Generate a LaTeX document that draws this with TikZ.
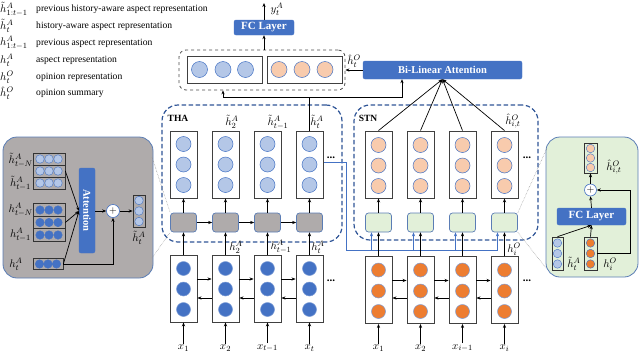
\documentclass[tikz,border=0pt]{standalone}
\usepackage{fontspec}
\setmainfont{Liberation Serif}
\usetikzlibrary{arrows.meta,calc}
\definecolor{dblue}{HTML}{4472C4}
\definecolor{lblue}{HTML}{B4C7E7}
\definecolor{dorange}{HTML}{ED7D31}
\definecolor{lorange}{HTML}{F8CBAD}
\definecolor{lgreen}{HTML}{E2F0D9}
\definecolor{grayb}{HTML}{AFABAB}
\definecolor{navy}{HTML}{2F5597}
\definecolor{frameb}{HTML}{5B7DB5}
\begin{document}
\begin{tikzpicture}[x=1pt,y=-1pt,
  >={Stealth[length=4pt,width=3.2pt]},
  every node/.style={inner sep=1pt},
  lgtext/.style={anchor=west,font=\fontsize{9.6}{10}\selectfont},
  mlab/.style={font=\fontsize{11}{12}\selectfont,inner sep=0pt},
  dotsty/.style={font=\bfseries\fontsize{11}{11}\selectfont,inner sep=0pt},
  colbox/.style={draw=black!75,line width=0.9pt,fill=white,minimum width=27pt,minimum height=67pt,inner sep=0pt},
  cir/.style={circle,draw=dblue,line width=0.5pt,minimum size=15pt,inner sep=0pt},
  scir/.style={circle,draw=dblue,line width=0.4pt,minimum size=8.5pt,inner sep=0pt},
  cell/.style={draw=black!80,line width=0.7pt,inner sep=0pt},
  graybox/.style={draw=frameb,line width=0.7pt,fill=grayb,rounded corners=3pt,minimum width=26pt,minimum height=19pt,inner sep=0pt},
  greenbox/.style={draw=frameb,line width=0.7pt,fill=lgreen,rounded corners=3pt,minimum width=26pt,minimum height=19pt,inner sep=0pt},
  bluebox/.style={draw=dblue,fill=dblue,rounded corners=2pt,text=white,font=\bfseries\fontsize{10.5}{12}\selectfont,inner sep=0pt},
  regionbox/.style={draw=navy,line width=1.2pt,dash pattern=on 4.5pt off 2.5pt,rounded corners=16pt,inner sep=0pt},
  detailbox/.style={draw=frameb,line width=0.8pt,rounded corners=14pt,inner sep=0pt},
  arr/.style={->,line width=0.7pt,black},
  bline/.style={draw=dblue,line width=0.7pt},
  conn/.style={draw=black!45,line width=0.5pt,densely dotted},
  plusc/.style={circle,draw=dblue,line width=0.6pt,fill=white,inner sep=0pt},
  reglab/.style={font=\bfseries\fontsize{9.5}{10}\selectfont}
]
\useasboundingbox (0,0) rectangle (640,354);

% ---------- legend ----------
\node[anchor=west,mlab] (ls1) at (0,9) {$\tilde h^A_{1:t-1}$};
\node[lgtext] (lt1) at (35,9) {previous history-aware aspect representation};
\node[anchor=west,mlab] (ls2) at (0,26) {$\tilde h^A_{t}$};
\node[lgtext] (lt2) at (35,26) {history-aware aspect representation};
\node[anchor=west,mlab] (ls3) at (0,43) {$h^A_{1:t-1}$};
\node[lgtext] (lt3) at (35,43) {previous aspect representation};
\node[anchor=west,mlab] (ls4) at (0,60) {$h^A_{t}$};
\node[lgtext] (lt4) at (35,60) {aspect representation};
\node[anchor=west,mlab] (ls5) at (0,77) {$h^O_{t}$};
\node[lgtext] (lt5) at (35,77) {opinion representation};
\node[anchor=west,mlab] (ls6) at (0,93) {$\hat h^O_{t}$};
\node[lgtext] (lt6) at (35,93) {opinion summary};

% ---------- region boxes ----------
\node[regionbox,minimum width=180pt,minimum height=137pt] (tha) at (252,173.5) {};
\node[regionbox,minimum width=184pt,minimum height=135pt] (stn) at (446,172.5) {};
\node[reglab] (thal) at (178,118) {THA};
\node[reglab] (stnl) at (368,118) {STN};

% ---------- blue line from THA to STN ----------
\coordinate (b0) at (323,162);
\coordinate (b1) at (346,162);
\coordinate (b2) at (346,250);
\coordinate (b3) at (497.5,250);
\draw[bline] (b0) -- (b1) -- (b2) -- (b3);

% ---------- THA / aspect columns ----------
\foreach \i/\x/\xl in {1/183.5/x_1,2/225.5/x_2,3/267.5/x_{t-1},4/309.5/x_t}{
  \node[colbox] (tc\i) at (\x,164.5) {};
  \node[cir,fill=lblue] (tc\i-a) at (\x,144) {};
  \node[cir,fill=lblue] (tc\i-b) at (\x,164.5) {};
  \node[cir,fill=lblue] (tc\i-c) at (\x,185) {};
  \node[graybox] (g\i) at (\x,222.5) {};
  \node[colbox] (ac\i) at (\x,288.5) {};
  \node[cir,minimum size=14pt,fill=dblue,draw=dblue!70!white] (ac\i-a) at (\x,268.5) {};
  \node[cir,minimum size=14pt,fill=dblue,draw=dblue!70!white] (ac\i-b) at (\x,289) {};
  \node[cir,minimum size=14pt,fill=dblue,draw=dblue!70!white] (ac\i-c) at (\x,309.5) {};
  \node[mlab] (xa\i) at (\x,348) {$\xl$};
  \draw[arr] (g\i) -- (tc\i);
  \draw[arr] (ac\i) -- (g\i);
  \draw[arr] ([yshift=1pt]xa\i.north) -- (ac\i.south);
}
\foreach \i/\j in {1/2,2/3,3/4}{
  \draw[arr] (g\i) -- (g\j);
  \draw[arr] ([yshift=9.5pt]ac\i.east) -- ([yshift=9.5pt]ac\j.west);
  \draw[arr] ([yshift=-9.5pt]ac\j.west) -- ([yshift=-9.5pt]ac\i.east);
}
\node[mlab] (th2) at (232,122) {$\tilde h^A_2$};
\node[mlab] (th3) at (278,122) {$\tilde h^A_{t-1}$};
\node[mlab] (th4) at (317,122) {$\tilde h^A_t$};
\node[mlab] (ha2) at (236,247) {$h^A_2$};
\node[mlab] (ha3) at (281,247) {$h^A_{t-1}$};
\node[mlab] (ha4) at (318,247) {$h^A_t$};
\node[dotsty] (dt1) at (331,158) {...};
\node[dotsty] (dt2) at (331,281) {...};

% ---------- STN / opinion columns ----------
\node[bluebox,minimum width=159pt,minimum height=18pt] (bl) at (442.5,70) {Bi-Linear Attention};
\coordinate (blp) at (bl.south);
\foreach \i/\x/\xl in {1/378.5/x_1,2/420.5/x_2,3/462.5/x_{i-1},4/504.5/x_i}{
  \node[colbox] (sc\i) at (\x,164.5) {};
  \node[cir,fill=lorange] (sc\i-a) at (\x,145) {};
  \node[cir,fill=lorange] (sc\i-b) at (\x,165.5) {};
  \node[cir,fill=lorange] (sc\i-c) at (\x,186) {};
  \node[greenbox] (gr\i) at (\x,222.5) {};
  \node[colbox] (oc\i) at (\x,290) {};
  \node[cir,minimum size=14pt,fill=dorange,draw=dblue!70!white] (oc\i-a) at (\x,270) {};
  \node[cir,minimum size=14pt,fill=dorange,draw=dblue!70!white] (oc\i-b) at (\x,291) {};
  \node[cir,minimum size=14pt,fill=dorange,draw=dblue!70!white] (oc\i-c) at (\x,311.5) {};
  \node[mlab] (xo\i) at (\x,348) {$\xl$};
  \draw[arr] (gr\i) -- (sc\i);
  \draw[arr] (oc\i) -- (gr\i);
  \draw[arr] ([yshift=1pt]xo\i.north) -- (oc\i.south);
  \draw[arr] (sc\i.north) -- (blp);
  \draw[->,bline] ($(gr\i.south)+(-7,18)$) -- ($(gr\i.south)+(-7,0)$);
}
\foreach \i/\j in {1/2,2/3,3/4}{
  \draw[arr] ([yshift=9.5pt]oc\i.east) -- ([yshift=9.5pt]oc\j.west);
  \draw[arr] ([yshift=-8pt]oc\j.west) -- ([yshift=-8pt]oc\i.east);
}
\node[mlab] (hs4) at (513,121) {$\hat h^O_{i,t}$};
\node[mlab] (ho4) at (514,249) {$h^O_i$};
\node[dotsty] (dt3) at (527,158) {...};
\node[dotsty] (dt4) at (527,281) {...};

% ---------- top: concat + FC ----------
\node[draw=black!70,line width=0.8pt,dashed,rounded corners=7pt,minimum width=166pt,minimum height=40pt,inner sep=0pt] (cat) at (262,70) {};
\node[draw=black!75,line width=0.8pt,minimum width=75pt,minimum height=27pt,inner sep=0pt] (catl) at (224.5,69.5) {};
\node[draw=black!75,line width=0.8pt,minimum width=75pt,minimum height=27pt,inner sep=0pt] (catr) at (304.5,69.5) {};
\foreach \k/\x in {1/199.5,2/223,3/245.5}{\node[cir,minimum size=16pt,fill=lblue] (cl\k) at (\x,69.5) {};}
\foreach \k/\x in {1/279,2/302,3/325}{\node[cir,minimum size=16pt,fill=lorange] (cr\k) at (\x,69.5) {};}
\node[bluebox,minimum width=60pt,minimum height=15pt,font=\bfseries\fontsize{11}{12}\selectfont] (fc) at (264,27.5) {FC Layer};
\coordinate (yout) at (264,3);
\draw[arr] (fc.north) -- (yout);
\node[mlab] (ylab) at (277,9) {$y^A_t$};
\draw[arr] (fc.south |- cat.north) -- (fc.south);
\draw[arr] (bl.west) -- (cat.east);
\node[mlab] (hho) at (354,61) {$\hat h^O_t$};
\coordinate (j1) at (223,97);
\coordinate (j2) at (402,97);
\draw[arr] (tc4.north) |- (j1) -- (j1 |- cat.south);
\draw[arr] (tc4.north |- j1) -- (j2) -- (j2 |- bl.south);

% ---------- left detail box ----------
\node[detailbox,fill=grayb,minimum width=150pt,minimum height=141pt] (lbox) at (78,207.5) {};
\foreach \r/\y in {1/159,2/171,3/183}{
  \node[cell,minimum width=32pt,minimum height=12pt] (ts\r) at (49,\y) {};
  \foreach \k/\x in {1/40,2/49,3/58}{\node[scir,fill=lblue] (ts\r-\k) at (\x,\y) {};}
}
\foreach \r/\y in {1/210,2/222.5,3/235}{
  \node[cell,minimum width=32pt,minimum height=12.5pt] (ds\r) at (49,\y) {};
  \foreach \k/\x in {1/40,2/49,3/58}{\node[scir,fill=dblue] (ds\r-\k) at (\x,\y) {};}
}
\node[cell,minimum width=30pt,minimum height=11pt] (br) at (48,264) {};
\foreach \k/\x in {1/39.5,2/48,3/56.5}{\node[scir,fill=dblue] (br-\k) at (\x,264) {};}
\node[mlab,anchor=east] (lh1) at (33,160) {$\tilde h^A_{t-N}$};
\node[mlab,anchor=east] (lh2) at (31,183) {$\tilde h^A_{t-1}$};
\node[mlab,anchor=east] (lh3) at (33,210) {$h^A_{t-N}$};
\node[mlab,anchor=east] (lh4) at (31,235) {$h^A_{t-1}$};
\node[mlab] (lh5) at (16,264) {$h^A_t$};
\node[bluebox,rotate=-90,minimum width=85pt,minimum height=16pt] (att) at (87,210.5) {Attention};
\coordinate (ap) at (79,211);
\coordinate (ao) at (95,211);
\draw[arr] (ts2.east) -- (ap);
\draw[arr] (ds2.east) -- (ap);
\draw[arr] (br.east) -- (ap);
\node[plusc,minimum size=13pt] (pl) at (113,211) {$+$};
\draw[arr] (ao) -- (pl.west);
\node[cell,minimum width=12pt,minimum height=32pt] (os) at (139,211) {};
\foreach \k/\y in {1/200.5,2/211,3/221.5}{\node[scir,fill=lblue] (os-\k) at (139,\y) {};}
\node[mlab] (osl) at (139,238) {$\tilde h^A_t$};
\draw[arr] (pl.east) -- (os.west);
\draw[arr] (br.east) -- (br.east -| pl) -- (pl.south);

% ---------- right detail box ----------
\node[detailbox,fill=lgreen,minimum width=92pt,minimum height=140pt] (rbox) at (592,207) {};
\node[cell,minimum width=13pt,minimum height=30pt] (rt) at (590.5,158) {};
\foreach \k/\y in {1/148.5,2/158,3/167.5}{\node[scir,fill=lorange] (rt-\k) at (590.5,\y) {};}
\node[mlab] (rtl) at (614,167) {$\hat h^O_{i,t}$};
\node[plusc,minimum size=12pt] (rp) at (590.5,190) {$+$};
\node[bluebox,minimum width=69pt,minimum height=17pt,font=\bfseries\fontsize{11}{12}\selectfont] (rfc) at (591.5,216.5) {FC Layer};
\node[cell,minimum width=11pt,minimum height=33pt] (rl) at (557.5,253.5) {};
\foreach \k/\y in {1/243,2/253.5,3/264}{\node[scir,fill=lblue] (rl-\k) at (557.5,\y) {};}
\node[cell,minimum width=13pt,minimum height=33pt] (rr) at (590.5,253.5) {};
\foreach \k/\y in {1/243,2/253.5,3/264}{\node[scir,fill=dorange] (rr-\k) at (590.5,\y) {};}
\node[mlab] (rll) at (574,264) {$\tilde h^A_t$};
\node[mlab] (rrl) at (610,264) {$h^O_i$};
\draw[arr] (rl.north) -- (rfc.south);
\draw[arr] (rr.north) -- (rfc.south);
\draw[arr] (rfc.north) -- (rp.south);
\draw[arr] (rp.north) -- (rt.south);
\coordinate (rc) at (630,253.5);
\draw[arr] (rr.east) -- (rc) |- (rp.east);

% ---------- zoom connectors ----------
\coordinate (lc1) at (152,157);
\coordinate (lc2) at (152,258);
\coordinate (rc1) at (547,148);
\coordinate (rc2) at (546,268);
\draw[conn] (lc1) -- (g1.north west);
\draw[conn] (lc2) -- (g1.south west);
\draw[conn] (gr4.north east) -- (rc1);
\draw[conn] (gr4.south east) -- (rc2);
\end{tikzpicture}
\end{document}
